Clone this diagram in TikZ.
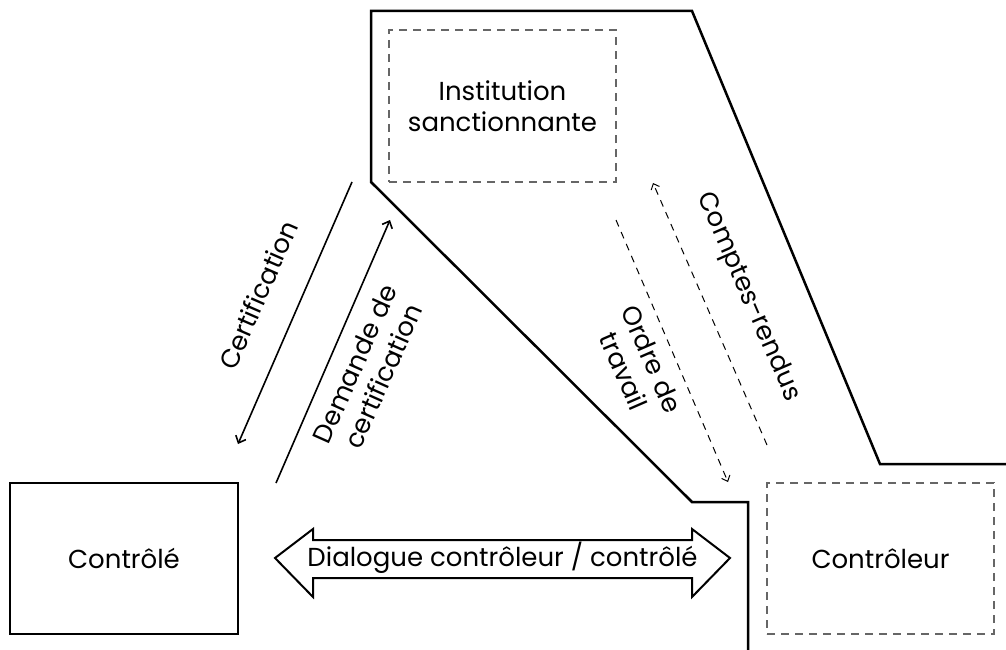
\documentclass[tikz,border=0pt]{standalone}
\usepackage{fontspec}
\setmainfont{Poppins}
\usetikzlibrary{arrows.meta}
\begin{document}
\begin{tikzpicture}[x=1pt,y=-1pt,
  lbl/.style={font=\fontsize{26}{31}\selectfont, align=center, inner sep=0pt},
  solidbox/.style={draw, line width=2pt},
  dashbox/.style={draw=black!60, line width=1.5pt, dash pattern=on 8pt off 6pt},
  flow/.style={line width=1.6pt, -{Straight Barb[length=6pt,width=11pt]}},
  dflow/.style={line width=1pt, dash pattern=on 7pt off 6pt, -{Straight Barb[length=5pt,width=9pt]}},
  border/.style={line width=2.5pt, line join=miter}]
\useasboundingbox (0,0) rectangle (1006,650);
% frontier
\draw[border] (1006,464) -- (880,464) -- (692,11) -- (371,11) -- (371,182) -- (692,502) -- (748,502) -- (748,650);
% boxes
\node[solidbox, minimum width=228pt, minimum height=151pt, lbl] (ctle) at (124,558.5) {Contrôlé};
\node[dashbox, minimum width=227pt, minimum height=151pt, lbl] (ctlr) at (880.5,558.5) {Contrôleur};
\node[dashbox, minimum width=227pt, minimum height=152pt, lbl] (inst) at (502.5,106) {Institution\\sanctionnante};
% arrows
\coordinate (c1) at (352,182); \coordinate (c2) at (238,444);
\coordinate (d1) at (276,483); \coordinate (d2) at (390,220);
\coordinate (r1) at (767,445); \coordinate (r2) at (653,183);
\coordinate (o1) at (616,220); \coordinate (o2) at (728,482);
\draw[flow] (c1) -- (c2);
\draw[flow] (d1) -- (d2);
\draw[dflow] (r1) -- (r2);
\draw[dflow] (o1) -- (o2);
\node[lbl, rotate=66.5] (lc) at (258,295) {Certification};
\node[lbl, rotate=66] (ld) at (369,370) {Demande de\\certification};
\node[lbl, rotate=-66.5] (lr) at (748,297) {Comptes-rendus};
\node[lbl, rotate=-66.5] (lo) at (638,365) {Ordre de\\travail};
% double arrow
\node[lbl] (dlg) at (502.5,558) {Dialogue contrôleur / contrôlé};
\draw[line width=2pt, line join=miter] (275,558) -- (313,529) -- (313,540) -- (692,540) -- (692,529) -- (730,558) -- (692,597) -- (692,578) -- (313,578) -- (313,597) -- cycle;
\end{tikzpicture}
\end{document}
